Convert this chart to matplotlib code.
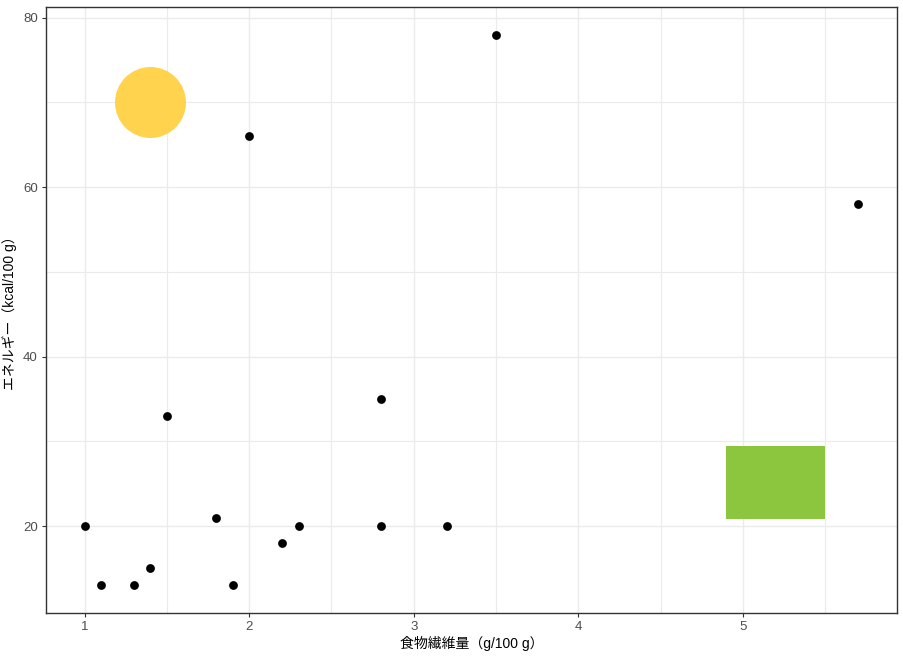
import matplotlib
matplotlib.use("Agg")
import matplotlib.pyplot as plt
from matplotlib.patches import Rectangle

plt.rcParams['font.family'] = ['Liberation Sans', 'Noto Sans CJK JP', 'DejaVu Sans']

# food data: dietary fibre vs energy
fiber = [1.0, 1.1, 1.3, 1.4, 1.5, 1.8, 1.9, 2.0, 2.2, 2.3, 2.8, 2.8, 3.2, 3.5, 5.7]
energy = [20, 13, 13, 15, 33, 21, 13, 66, 18, 20, 35, 20, 20, 78, 58]

# annotations
sun_x, sun_y = 1.4, 70
rect_x = [4.9, 5.5]
rect_y = [20.8, 29.4]

xlabel = "食物繊維量（g/100 g）"
ylabel = "エネルギー（kcal/100 g）"

fig = plt.figure(figsize=(9.04, 6.58), dpi=100)
ax = fig.add_axes([0.0509, 0.0684, 0.9410, 0.9210])

ax.scatter([sun_x], [sun_y], s=2612, color="#FFD34E", linewidths=0, zorder=3)
ax.add_patch(Rectangle((rect_x[0], rect_y[0]), rect_x[1] - rect_x[0], rect_y[1] - rect_y[0],
                       facecolor="#8CC63F", edgecolor="none", zorder=3))
ax.scatter(fiber, energy, s=40, color="black", linewidths=0, zorder=4)

ax.set_xlim(0.765, 5.935)
ax.set_ylim(9.75, 81.25)
ax.set_xticks([1, 2, 3, 4, 5])
ax.set_yticks([20, 40, 60, 80])
ax.set_xticks([1.5, 2.5, 3.5, 4.5, 5.5], minor=True)
ax.set_yticks([30, 50, 70], minor=True)

ax.grid(True, which="major", color="#EBEBEB", linewidth=1.0, zorder=0)
ax.grid(True, which="minor", color="#EBEBEB", linewidth=0.8, zorder=0)
ax.set_axisbelow(True)

for s in ax.spines.values():
    s.set_color("#333333")
    s.set_linewidth(1.0)

ax.tick_params(which="major", length=3, width=0.8, color="#333333",
               labelcolor="#4D4D4D", labelsize=9.5, pad=3)
ax.tick_params(which="minor", length=0)

ax.set_xlabel(xlabel, fontsize=10, color="black", labelpad=2)
ax.set_ylabel(ylabel, fontsize=10, color="black", labelpad=4)

fig.savefig("out.png", dpi=100)
